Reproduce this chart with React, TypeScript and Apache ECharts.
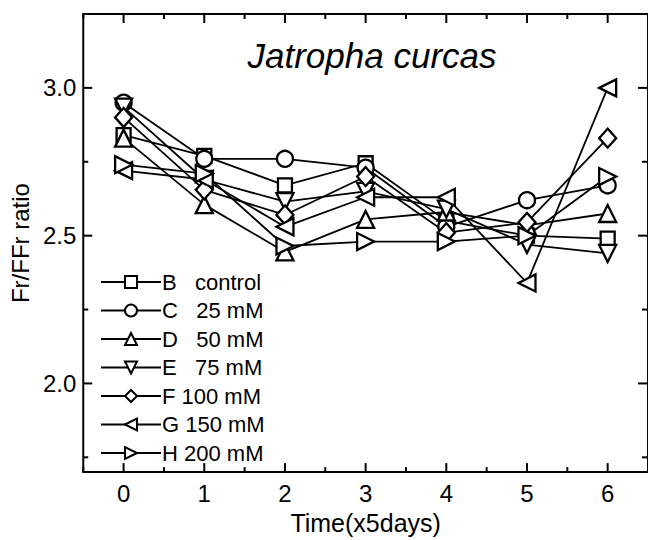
import React, { useEffect, useRef } from "react";
import * as echarts from "echarts";

// Time points (x 5 days)
const timePoints = [0, 1, 2, 3, 4, 5, 6];

// Fr/FFr ratio per NaCl treatment
const seriesB = [2.84, 2.77, 2.67, 2.745, 2.55, 2.5, 2.49];
const seriesC = [2.95, 2.76, 2.76, 2.73, 2.53, 2.62, 2.67];
const seriesD = [2.83, 2.605, 2.445, 2.555, 2.58, 2.535, 2.575];
const seriesE = [2.935, 2.69, 2.615, 2.65, 2.59, 2.47, 2.44];
const seriesF = [2.9, 2.655, 2.57, 2.7, 2.51, 2.545, 2.83];
const seriesG = [2.72, 2.69, 2.53, 2.63, 2.63, 2.34, 3.0];
const seriesH = [2.74, 2.71, 2.465, 2.48, 2.48, 2.5, 2.7];

const seriesNames = [
  "B   control",
  "C   25 mM",
  "D   50 mM",
  "E   75 mM",
  "F 100 mM",
  "G 150 mM",
  "H 200 mM",
];

// Axis ranges and tick positions
const X_MIN = -0.5;
const X_MAX = 6.5;
const Y_MIN = 1.7;
const Y_MAX = 3.25;
const xMajorTicks = [0, 1, 2, 3, 4, 5, 6];
const xMinorTicks = [-0.5, 0.5, 1.5, 2.5, 3.5, 4.5, 5.5, 6.5];
const yMajorTicks = [2.0, 2.5, 3.0];
const yMinorTicks = [1.75, 2.25, 2.75, 3.25];

const FONT = "'Liberation Sans', Arial, sans-serif";
const MAJOR_LEN = 9;
const MINOR_LEN = 5;
const TICK_W = 2;

export default function App() {
  const ref = useRef<HTMLDivElement>(null);

  useEffect(() => {
    if (!ref.current) return;
    const chart = echarts.init(ref.current, undefined, { renderer: "svg" });

    const allValues = [seriesB, seriesC, seriesD, seriesE, seriesF, seriesG, seriesH];
    const markers: { symbol: string; size: number | number[]; rotate: number }[] = [
      { symbol: "rect", size: 14, rotate: 0 },
      { symbol: "circle", size: 16, rotate: 0 },
      { symbol: "triangle", size: 17, rotate: 0 },
      { symbol: "triangle", size: 17, rotate: 180 },
      { symbol: "diamond", size: [17, 19], rotate: 0 },
      { symbol: "triangle", size: 17, rotate: 90 },
      { symbol: "triangle", size: 17, rotate: -90 },
    ];

    const lineSeries = allValues.map((vals, i) => ({
      name: seriesNames[i],
      type: "line",
      data: timePoints.map((t, j) => [t, vals[j]]),
      symbol: markers[i].symbol,
      symbolSize: markers[i].size,
      symbolRotate: markers[i].rotate,
      showAllSymbol: true,
      lineStyle: { color: "#000", width: 1.8 },
      itemStyle: { color: "#fff", borderColor: "#000", borderWidth: 2.3 },
      emphasis: { disabled: true },
      z: 3,
    }));

    // Inward frame ticks, drawn as thin rectangles anchored on the frame edges
    const tickItems: any[] = [];
    const xTick = (v: number, len: number) => {
      tickItems.push({ value: [v, Y_MIN], symbolSize: [TICK_W, len], symbolOffset: [0, -len / 2] });
      tickItems.push({ value: [v, Y_MAX], symbolSize: [TICK_W, len], symbolOffset: [0, len / 2] });
    };
    const yTick = (v: number, len: number) => {
      tickItems.push({ value: [X_MIN, v], symbolSize: [len, TICK_W], symbolOffset: [len / 2, 0] });
      tickItems.push({ value: [X_MAX, v], symbolSize: [len + 1, TICK_W], symbolOffset: [-(len + 1) / 2, 0] });
    };
    xMajorTicks.forEach((v) => xTick(v, MAJOR_LEN));
    xMinorTicks.forEach((v) => xTick(v, MINOR_LEN));
    yMajorTicks.forEach((v) => yTick(v, MAJOR_LEN));
    yMinorTicks.forEach((v) => yTick(v, MINOR_LEN));

    const tickSeries = {
      type: "scatter",
      name: "frame ticks",
      silent: true,
      clip: false,
      z: 5,
      symbol: "rect",
      itemStyle: { color: "#000", borderWidth: 0, opacity: 1 },
      emphasis: { disabled: true },
      data: tickItems,
    };

    chart.setOption({
      animation: false,
      backgroundColor: "#fff",
      textStyle: { fontFamily: FONT },
      grid: {
        left: 82,
        right: -6,
        top: 14,
        bottom: 61,
        show: true,
        borderColor: "#000",
        borderWidth: 2,
        backgroundColor: "transparent",
      },
      title: {
        text: "Jatropha curcas",
        left: 367,
        top: 33,
        textAlign: "center",
        textStyle: {
          fontFamily: FONT,
          fontStyle: "italic",
          fontWeight: "normal",
          fontSize: 35,
          color: "#000",
        },
      },
      legend: {
        orient: "vertical",
        left: 95,
        top: 266,
        itemWidth: 60,
        itemHeight: 15,
        itemGap: 6.5,
        data: seriesNames,
        textStyle: {
          fontFamily: FONT,
          fontSize: 22,
          lineHeight: 22,
          color: "#000",
          padding: [0, 0, 0, -4],
        },
        selectedMode: false,
      },
      xAxis: {
        type: "value",
        min: X_MIN,
        max: X_MAX,
        splitLine: { show: false },
        axisLine: { show: false },
        axisTick: { show: false },
        name: "Time(x5days)",
        nameLocation: "middle",
        nameGap: 33,
        nameTextStyle: { fontFamily: FONT, fontSize: 25, color: "#000" },
        axisLabel: {
          customValues: xMajorTicks,
          margin: 9,
          fontFamily: FONT,
          fontSize: 24,
          color: "#000",
        },
      },
      yAxis: {
        type: "value",
        min: Y_MIN,
        max: Y_MAX,
        splitLine: { show: false },
        axisLine: { show: false },
        axisTick: { show: false },
        name: "Fr/FFr ratio",
        nameLocation: "middle",
        nameGap: 48,
        nameTextStyle: { fontFamily: FONT, fontSize: 24, color: "#000" },
        axisLabel: {
          customValues: yMajorTicks,
          margin: 7,
          fontFamily: FONT,
          fontSize: 24,
          color: "#000",
          formatter: (v: number) => v.toFixed(1),
        },
      },
      series: [...lineSeries, tickSeries],
    });

    return () => chart.dispose();
  }, []);

  return (
    <div
      ref={ref}
      style={{ position: "fixed", left: 0, top: 0, width: 648, height: 540, background: "#fff" }}
    />
  );
}
